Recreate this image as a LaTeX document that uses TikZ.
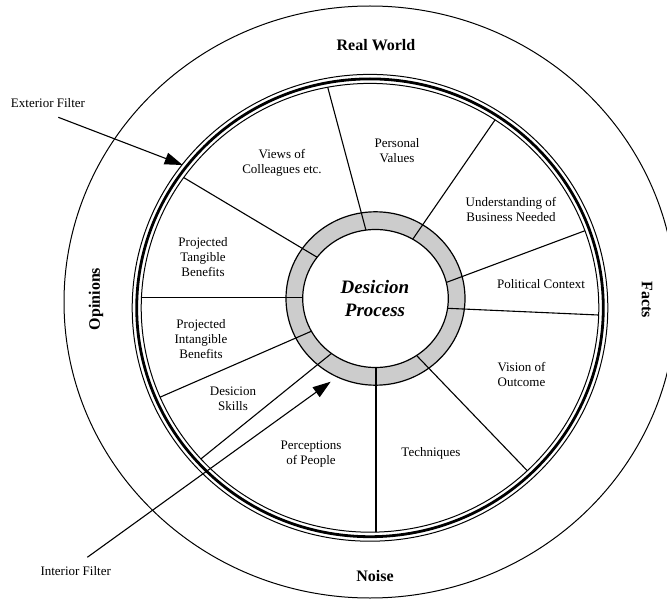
\documentclass[tikz,border=0pt]{standalone}
\usepackage{fontspec}
\setmainfont{Liberation Serif}
\usetikzlibrary{arrows.meta}
\usepackage{xcolor}

\newcommand{\sectorfont}{\fontsize{13}{15}\selectfont}
\newcommand{\worldfont}{\fontsize{16}{19}\selectfont\bfseries}
\newcommand{\corefont}{\fontsize{19}{22.7}\selectfont\bfseries\itshape}
\definecolor{ringgray}{gray}{0.8}

\begin{document}
\begin{tikzpicture}[x=1pt, y=-1pt, every node/.style={font=\sectorfont, align=center},
		spoke/.style={line width=1.1pt},
		filter/.style={line width=1.1pt, -{Triangle[length=18pt, width=12pt]}},
		world/.style={font=\worldfont}]
		\useasboundingbox (0,0) rectangle (667,599);
		\clip (0,0) rectangle (667,599);

		% 外圈
		\draw[line width=1pt] (370,302) ellipse [x radius=306pt, y radius=296pt];
		% 过滤环: 细, 粗, 细
		\draw[line width=1pt] (370,307.8) ellipse [x radius=237.8pt, y radius=233.4pt];
		\draw[line width=2.8pt] (370,307.8) ellipse [x radius=233.3pt, y radius=228.9pt];
		\draw[line width=1pt] (370,307.8) ellipse [x radius=228.8pt, y radius=224.4pt];

		% 灰色环带
		\filldraw[fill=ringgray, line width=1.2pt] (375.5,298.5) ellipse [x radius=89.5pt, y radius=86.7pt];

		% 分隔线
		\begin{scope}
			\clip (370,307.8) ellipse [x radius=228.8pt, y radius=224.4pt];
			\foreach \xa/\ya/\xb/\yb in {366.9/233.7/326.2/81.6, 409.3/244.2/499.5/113.4,
				437.3/285.8/592.5/227.9, 438.3/307.9/607.3/315.4, 411.4/350.1/533.8/477.5,
				376/357/376/540.7, 336.1/349.7/195.5/463.3, 314.2/330/155.4/399.2,
				312.7/297.7/136/297.7, 323.6/261.1/176.4/173.2}
				\draw[spoke] (\xa,\ya) -- (\xb,\yb);
		\end{scope}
		\filldraw[fill=white, line width=1.2pt] (375.5,298.5) ellipse [x radius=72.8pt, y radius=69pt];

		\node[font=\corefont] (core) at (375,298.5) {Desicion\\Process};

		\node[world] (realworld) at (376,45) {Real World};
		\node[world] (noise) at (375,576) {Noise};
		\node[world, rotate=90] (opinions) at (96,299) {Opinions};
		\node[world, rotate=-90] (facts) at (647,300) {Facts};

		\node (views) at (282,163) {Views of\\Colleagues etc.};
		\node (values) at (397,151) {Personal\\Values};
		\node (business) at (511,209) {Understanding of\\Business Needed};
		\node (politics) at (541,284) {Political Context};
		\node (vision) at (521.5,374) {Vision of\\Outcome};
		\node (techniques) at (431,453) {Techniques};
		\node (people) at (311,454) {Perceptions\\of People};
		\node (skills) at (233,398.5) {Desicion\\Skills};
		\node (intangible) at (201,339.5) {Projected\\Intangible\\Benefits};
		\node (tangible) at (203,257.5) {Projected\\Tangible\\Benefits};

		% 过滤箭头
		\node (extlabel) at (48,103) {Exterior Filter};
		\node (intlabel) at (75.7,570.7) {Interior Filter};
		\coordinate (extfrom) at (58.3,117.3);
		\coordinate (exttip) at (182.7,165);
		\coordinate (intfrom) at (87.3,557.3);
		\coordinate (inttip) at (330.7,381.7);
		\draw[filter] (extfrom) -- (exttip);
		\draw[filter] (intfrom) -- (inttip);
	\end{tikzpicture}
\end{document}
